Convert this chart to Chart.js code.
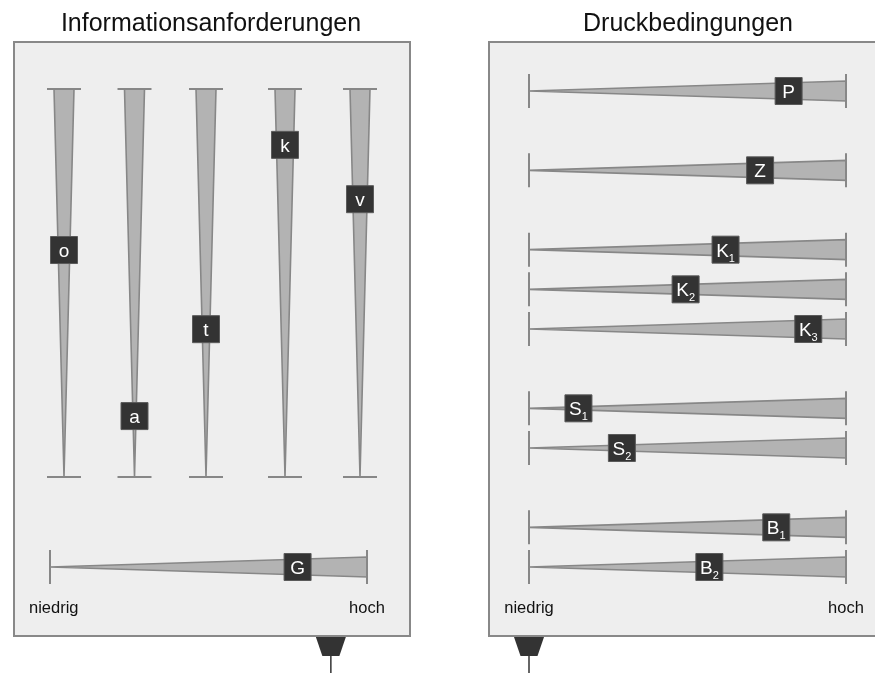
<!DOCTYPE html>
<html>
<head>
<meta charset="utf-8">
<script src="https://cdn.jsdelivr.net/npm/chart.js@4.4.1/dist/chart.umd.min.js"></script>
<style>
    html, body { margin: 0; padding: 0; background: #fff; }
    canvas { display: block; }
</style>
</head>
<body>
<canvas id="chart" width="875" height="673"></canvas>
<script>
// values run from 0 = "niedrig" to 1 = "hoch"
const panelTitles = ["Informationsanforderungen", "Druckbedingungen"];
const scaleEnds = ["niedrig", "hoch"];

const infoLabels = ["o", "a", "t", "k", "v"];
const infoValues = [0.585, 0.157, 0.381, 0.856, 0.716];

const overallLabel = "G";
const overallValue = 0.781;

const pressureLabels = ["P", "Z", "K1", "K2", "K3", "S1", "S2", "B1", "B2"];
const pressureRows = [0, 2, 4, 5, 6, 8, 9, 11, 12];
const pressureValues = [0.819, 0.729, 0.62, 0.494, 0.881, 0.156, 0.293, 0.78, 0.569];

// pointers under the panels: left one on the G scale, right one on the pressure scale
const pointerValues = [0.886, 0];

const W = 875, H = 673;
const layout = {
    columnsX: [64, 134.5, 206, 285, 360],
    vTop: 89, vBottom: 477,
    gLeft: 50, gRight: 367, gRow: 12,
    hLeft: 529, hRight: 846,
    rowTop: 91, rowBottom: 567, rowCount: 12,
    wedgeHalf: 10, tickHalf: 17,
    panels: [
        { x: 14, y: 42, w: 396, h: 594 },
        { x: 489, y: 42, w: 400, h: 594 },
    ],
};
const FONT = '"Liberation Sans", Arial, Helvetica, sans-serif';
const WEDGE_FILL = "#b3b3b3";
const EDGE = "#878787";

// min/max for a hidden axis so that value a sits at pixel pa and b at pb
function fit(a, pa, b, pb, size) {
    const k = (pb - pa) / (b - a);
    const min = a - pa / k;
    return { min, max: min + size / k };
}

const rowStep = (layout.rowBottom - layout.rowTop) / layout.rowCount;
const rowHalf = layout.wedgeHalf / rowStep;
const rowTick = layout.tickHalf / rowStep;

const wedgeStyle = {
    type: "line",
    backgroundColor: WEDGE_FILL,
    borderColor: EDGE,
    borderWidth: 1.6,
    pointRadius: 0,
    fill: "shape",
    tension: 0,
    order: 2,
};
const tickStyle = {
    type: "line",
    borderColor: EDGE,
    borderWidth: 2,
    pointRadius: 0,
    fill: false,
    spanGaps: false,
    order: 1,
};
const markerStyle = {
    type: "scatter",
    pointStyle: "rect",
    pointRadius: 27 / Math.SQRT2,
    pointBackgroundColor: "#333333",
    pointBorderColor: "#5a5a5a",
    pointBorderWidth: 1,
    order: 0,
};

const datasets = [];

// vertical wedges
layout.columnsX.forEach((cx) => {
    const h = layout.wedgeHalf, t = layout.tickHalf;
    datasets.push({
        ...wedgeStyle, xAxisID: "col", yAxisID: "vVal",
        data: [{ x: cx - h, y: 1 }, { x: cx + h, y: 1 }, { x: cx, y: 0 }, { x: cx - h, y: 1 }],
    });
    datasets.push({
        ...tickStyle, xAxisID: "col", yAxisID: "vVal",
        data: [{ x: cx - t, y: 1 }, { x: cx + t, y: 1 }, { x: cx, y: null }, { x: cx - t, y: 0 }, { x: cx + t, y: 0 }],
    });
});

// horizontal wedges
function addHorizontal(xAxisID, row) {
    datasets.push({
        ...wedgeStyle, xAxisID, yAxisID: "row",
        data: [{ x: 0, y: row }, { x: 1, y: row - rowHalf }, { x: 1, y: row + rowHalf }, { x: 0, y: row }],
    });
    datasets.push({
        ...tickStyle, xAxisID, yAxisID: "row",
        data: [{ x: 0, y: row - rowTick }, { x: 0, y: row + rowTick }, { x: 0.5, y: null }, { x: 1, y: row - rowTick }, { x: 1, y: row + rowTick }],
    });
}
addHorizontal("gVal", layout.gRow);
pressureRows.forEach((r) => addHorizontal("hVal", r));

// label boxes
datasets.push({
    ...markerStyle, xAxisID: "col", yAxisID: "vVal",
    markerText: infoLabels,
    data: infoValues.map((v, i) => ({ x: layout.columnsX[i], y: v })),
});
datasets.push({
    ...markerStyle, xAxisID: "gVal", yAxisID: "row",
    markerText: [overallLabel],
    data: [{ x: overallValue, y: layout.gRow }],
});
datasets.push({
    ...markerStyle, xAxisID: "hVal", yAxisID: "row",
    markerText: pressureLabels,
    data: pressureValues.map((v, i) => ({ x: v, y: pressureRows[i] })),
});

function hidden(axis, position, range, extra) {
    return { type: "linear", axis, position, display: false, bounds: "data", ...range, ...extra };
}

function drawMarkerText(ctx, text, cx, cy) {
    const main = text[0];
    const sub = text.slice(1);
    ctx.font = "19px " + FONT;
    const mw = ctx.measureText(main).width;
    ctx.font = "11px " + FONT;
    const sw = sub ? ctx.measureText(sub).width : 0;
    const x0 = cx - (mw + sw) / 2;
    ctx.fillStyle = "#ffffff";
    ctx.textAlign = "left";
    ctx.textBaseline = "alphabetic";
    ctx.font = "19px " + FONT;
    ctx.fillText(main, x0, cy + 7);
    if (sub) {
        ctx.font = "11px " + FONT;
        ctx.fillText(sub, x0 + mw, cy + 12);
    }
}

function drawPointer(ctx, x, top) {
    ctx.fillStyle = "#333333";
    ctx.beginPath();
    ctx.moveTo(x - 15, top);
    ctx.lineTo(x + 15, top);
    ctx.lineTo(x + 8.5, top + 19);
    ctx.lineTo(x - 8.5, top + 19);
    ctx.closePath();
    ctx.fill();
    ctx.strokeStyle = "#333333";
    ctx.lineWidth = 1.5;
    ctx.beginPath();
    ctx.moveTo(x, top + 19);
    ctx.lineTo(x, H);
    ctx.stroke();
}

const panelPlugin = {
    id: "panels",
    beforeDraw(chart) {
        const ctx = chart.ctx;
        ctx.save();
        layout.panels.forEach((p, i) => {
            ctx.fillStyle = "#eeeeee";
            ctx.fillRect(p.x, p.y, p.w, p.h);
            ctx.strokeStyle = "#888888";
            ctx.lineWidth = 2;
            ctx.strokeRect(p.x, p.y, p.w, p.h);
            ctx.fillStyle = "#111111";
            ctx.font = "25px " + FONT;
            ctx.textAlign = "center";
            ctx.textBaseline = "alphabetic";
            ctx.fillText(panelTitles[i], p.x + p.w / 2 - 1, 31);
        });

        // end labels under each value scale
        ctx.font = "16.5px " + FONT;
        ctx.fillStyle = "#111111";
        ctx.textAlign = "left";
        [["gVal", layout.panels[0]], ["hVal", layout.panels[1]]].forEach(([id, p]) => {
            const s = chart.scales[id];
            const lw = ctx.measureText(scaleEnds[0]).width;
            const hw = ctx.measureText(scaleEnds[1]).width;
            const lx = Math.max(s.getPixelForValue(0) - lw / 2, p.x + 15);
            ctx.fillText(scaleEnds[0], lx, 613);
            ctx.fillText(scaleEnds[1], s.getPixelForValue(1) - hw / 2, 613);
        });

        const bottom = layout.panels[0].y + layout.panels[0].h + 1;
        drawPointer(ctx, chart.scales.gVal.getPixelForValue(pointerValues[0]), bottom);
        drawPointer(ctx, chart.scales.hVal.getPixelForValue(pointerValues[1]), bottom);
        ctx.restore();
    },
    afterDatasetsDraw(chart) {
        const ctx = chart.ctx;
        ctx.save();
        chart.data.datasets.forEach((ds, di) => {
            if (!ds.markerText) {
                return;
            }
            const meta = chart.getDatasetMeta(di);
            meta.data.forEach((pt, i) => drawMarkerText(ctx, ds.markerText[i], pt.x, pt.y));
        });
        ctx.restore();
    },
};

new Chart(document.getElementById("chart"), {
    type: "line",
    data: { datasets },
    options: {
        responsive: false,
        animation: false,
        layout: { padding: 0, autoPadding: false },
        scales: {
            col: hidden("x", "bottom", { min: 0, max: W }),
            gVal: hidden("x", "bottom", fit(0, layout.gLeft, 1, layout.gRight, W)),
            hVal: hidden("x", "bottom", fit(0, layout.hLeft, 1, layout.hRight, W)),
            vVal: hidden("y", "left", fit(0, H - layout.vBottom, 1, H - layout.vTop, H)),
            row: hidden("y", "left", fit(0, layout.rowTop, layout.rowCount, layout.rowBottom, H), { reverse: true }),
        },
        plugins: {
            legend: { display: false },
            title: { display: false },
            tooltip: { enabled: false },
        },
    },
    plugins: [panelPlugin],
});
</script>
</body>
</html>
